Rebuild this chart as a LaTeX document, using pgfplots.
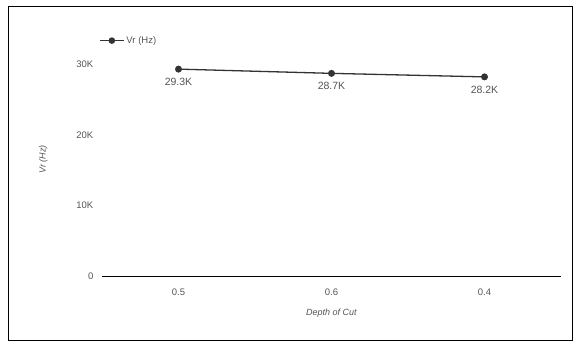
\documentclass[border=0pt]{standalone}
\usepackage{fontspec}
\setmainfont{Liberation Sans}
\usepackage{pgfplots}
\pgfplotsset{compat=1.18}
\definecolor{ln}{HTML}{333333}
\definecolor{tx}{HTML}{555555}
\begin{document}
\begin{tikzpicture}
\begin{axis}[
  name=ax,
  scale only axis,
  width=459pt, height=233pt,
  xmin=-0.5, xmax=2.5,
  ymin=0, ymax=33000,
  xtick={0,1,2}, xticklabels={0.5,0.6,0.4},
  ytick={0,10000,20000,30000}, yticklabels={0,10K,20K,30K},
  scaled y ticks=false,
  axis x line=bottom, axis y line=left,
  x axis line style={draw=black, line width=0.8pt, -},
  y axis line style={draw=none},
  xtick style={draw=none}, ytick style={draw=none},
  ticklabel style={font=\fontsize{9.5}{11}\selectfont, text=tx},
  xticklabel style={yshift=-7pt},
  yticklabel style={xshift=-3pt},
  /pgf/number format/assume math mode=true,
  xlabel={\textit{Depth of Cut}},
  ylabel={\textit{Vr (Hz)}},
  label style={font=\fontsize{9}{11}\selectfont, text=tx},
  xlabel style={yshift=-7pt},
  ylabel style={yshift=22pt},
  clip=false,
  legend style={at={(0,1)}, anchor=south west, draw=none, fill=none,
    font=\fontsize{9.5}{11}\selectfont, text=tx, xshift=-6pt, yshift=-6pt},
  legend image code/.code={\draw[ln, line width=1.3pt] (0pt,0pt) -- (24pt,0pt);
    \fill[ln] (12pt,0pt) circle (2.6pt);},
  legend cell align=left,
]
\addplot+[ln, line width=1.3pt, mark=*, mark size=2.8pt, mark options={fill=ln, draw=ln},
  nodes near coords={\pgfmathprintnumber[fixed,precision=1]{\pgfplotspointmeta}K},
  point meta=explicit,
  every node near coord/.append style={anchor=north, yshift=-5pt, font=\fontsize{10.5}{12}\selectfont, text=tx}]
  coordinates {(0,29300) [29.3] (1,28700) [28.7] (2,28200) [28.2]};
\addlegendentry{Vr (Hz)}
\end{axis}
\path ([shift={(-102pt,-69pt)}]ax.south west) rectangle ([shift={(478pt,276pt)}]ax.south west);
\draw[line width=0.8pt] ([shift={(-94pt,-64pt)}]ax.south west) rectangle ([shift={(470pt,270pt)}]ax.south west);
\end{tikzpicture}
\end{document}
